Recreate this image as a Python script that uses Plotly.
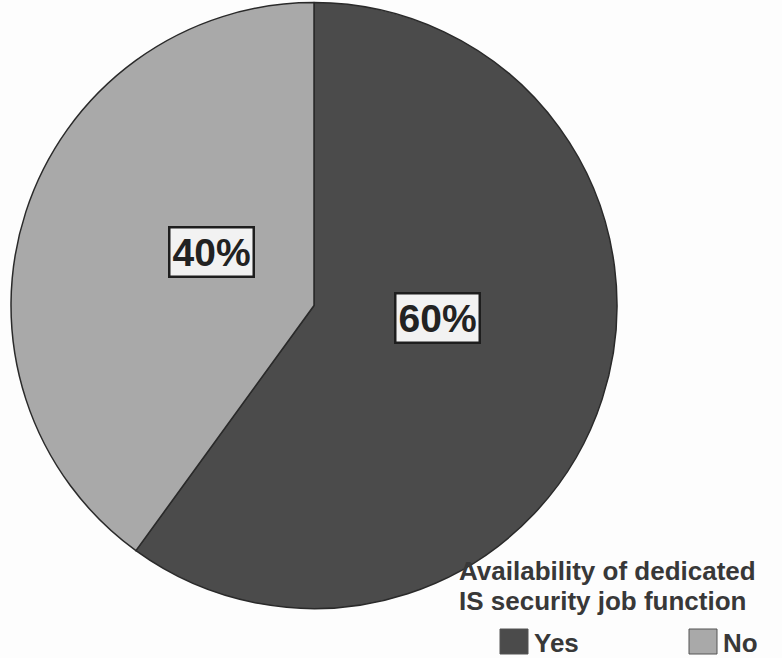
import plotly.graph_objects as go

# Survey result: is there a dedicated IS security job function?
categories = ["Yes", "No"]
shares = [60, 40]
slice_colors = ["#4b4b4b", "#a9a9a9"]
legend_title = ["Availability of dedicated", "IS security job function"]

FONT = "Arial, 'Liberation Sans', sans-serif"
W, H = 782, 658
TEXT_DARK = "#383838"

fig = go.Figure()
fig.add_trace(go.Pie(
    labels=categories,
    values=shares,
    sort=False,
    direction="clockwise",
    rotation=0,
    marker=dict(colors=slice_colors, line=dict(color="#2a2a2a", width=1.5)),
    textinfo="none",
    hoverinfo="label+percent",
    domain=dict(x=[0.01407, 0.78900], y=[0.07522, 0.99620]),
    showlegend=False,
))

# Boxed percentage labels placed over each slice
label_pos = {"Yes": (437, 318), "No": (168, 252)}
total = sum(shares)
for cat, val in zip(categories, shares):
    px, py = label_pos[cat]
    fig.add_annotation(
        x=px / W, y=1 - py / H, xref="paper", yref="paper",
        text=f"{round(100 * val / total)}%",
        showarrow=False,
        font=dict(family=FONT, size=39, color="#222222", weight="bold"),
        bgcolor="#f2f2f2", bordercolor="#1e1e1e", borderwidth=2.5,
        borderpad=2,
    )

# Legend block: two-line title, then one swatch + name per category
for i, line in enumerate(legend_title):
    fig.add_annotation(
        x=457 / W, y=1 - (571 + 30 * i) / H, xref="paper", yref="paper",
        xanchor="left", yanchor="middle", showarrow=False,
        text=line,
        font=dict(family=FONT, size=26, color=TEXT_DARK, weight="bold"),
    )

swatch_x = {"Yes": 500, "No": 689}
for cat, col in zip(categories, slice_colors):
    x0 = swatch_x[cat]
    fig.add_shape(
        type="rect", xref="paper", yref="paper",
        x0=x0 / W, x1=(x0 + 28) / W,
        y0=1 - 654 / H, y1=1 - 629 / H,
        fillcolor=col, line=dict(color="#555555", width=1),
    )
    fig.add_annotation(
        x=(x0 + 32) / W, y=1 - 643 / H, xref="paper", yref="paper",
        xanchor="left", yanchor="middle", showarrow=False,
        text=cat,
        font=dict(family=FONT, size=26, color=TEXT_DARK, weight="bold"),
    )

fig.update_layout(
    width=W, height=H,
    margin=dict(l=0, r=0, t=0, b=0),
    paper_bgcolor="#fdfdfd",
    plot_bgcolor="#fdfdfd",
    showlegend=False,
)

fig.write_html("out.html")
